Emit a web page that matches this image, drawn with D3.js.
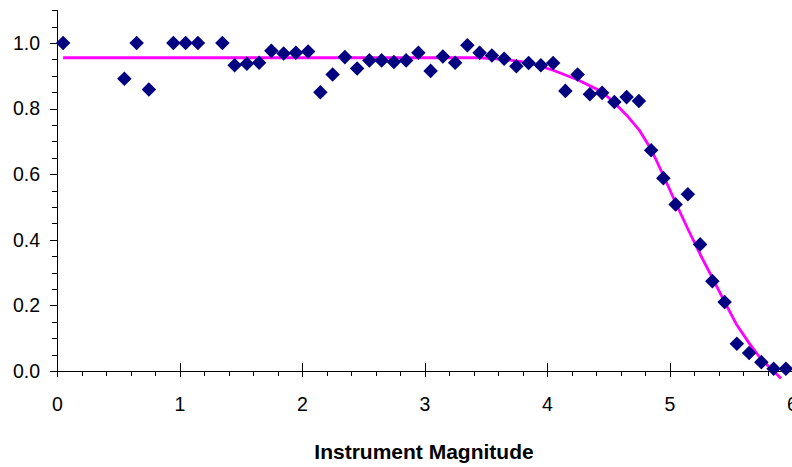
<!DOCTYPE html>
<html>
<head>
<meta charset="utf-8">
<script src="https://cdn.jsdelivr.net/npm/d3@7"></script>
<style>
  html, body { margin: 0; padding: 0; background: #fff; }
  svg { display: block; }
  text { font-family: "Liberation Sans", Arial, sans-serif; fill: #000; }
</style>
</head>
<body>
<svg id="chart" width="792" height="467"></svg>
<script>
// Observed detection fraction per magnitude bin
const magnitude = [0.05, 0.55, 0.65, 0.75, 0.95, 1.05, 1.15, 1.35, 1.45, 1.55,
  1.65, 1.75, 1.85, 1.95, 2.05, 2.15, 2.25, 2.35, 2.45, 2.55,
  2.65, 2.75, 2.85, 2.95, 3.05, 3.15, 3.25, 3.35, 3.45, 3.55,
  3.65, 3.75, 3.85, 3.95, 4.05, 4.15, 4.25, 4.35, 4.45, 4.55,
  4.65, 4.75, 4.85, 4.95, 5.05, 5.15, 5.25, 5.35, 5.45, 5.55,
  5.65, 5.75, 5.85, 5.95];
const fraction = [1.000, 0.891, 1.000, 0.858, 1.000, 1.000, 1.000, 1.000, 0.932, 0.937,
  0.940, 0.976, 0.968, 0.970, 0.974, 0.850, 0.904, 0.957, 0.922, 0.947,
  0.947, 0.942, 0.947, 0.970, 0.915, 0.959, 0.940, 0.993, 0.970, 0.962,
  0.952, 0.929, 0.939, 0.932, 0.939, 0.854, 0.904, 0.844, 0.848, 0.820,
  0.835, 0.823, 0.673, 0.588, 0.508, 0.539, 0.386, 0.274, 0.210, 0.083,
  0.055, 0.027, 0.007, 0.007];

// Fitted completeness curve
const fitX = [0.05, 3.45, 3.65, 3.85, 4.05, 4.25, 4.45, 4.55, 4.65, 4.75,
  4.85, 4.95, 5.05, 5.15, 5.25, 5.35, 5.45, 5.55, 5.65, 5.75, 5.85, 5.91];
const fitY = [0.955, 0.955, 0.950, 0.940, 0.917, 0.888, 0.851, 0.818, 0.780, 0.736,
  0.676, 0.596, 0.513, 0.433, 0.356, 0.284, 0.211, 0.140, 0.085, 0.035, 0.000, -0.023];

const xMajor = [0, 1, 2, 3, 4, 5, 6];
const yMajor = [0.0, 0.2, 0.4, 0.6, 0.8, 1.0];
const xTitle = "Instrument Magnitude";

const svg = d3.select("#chart");

const x = d3.scaleLinear().domain([0, 6]).range([57, 792]);
const y = d3.scaleLinear().domain([0, 1.1]).range([371, 10.2]);

const axisColor = "#000";

// Curve first so the markers sit on top
const fitData = fitX.map((v, i) => [v, fitY[i]]);
svg.append("path")
  .datum(fitData)
  .attr("fill", "none")
  .attr("stroke", "#ff00ff")
  .attr("stroke-width", 2.8)
  .attr("stroke-linejoin", "round")
  .attr("d", d3.line().x(d => x(d[0])).y(d => y(d[1])));

// Y axis: minor ticks every 0.05, major every 0.2
const yAxisG = svg.append("g").attr("transform", `translate(${x(0)},0)`)
  .attr("shape-rendering", "crispEdges");
yAxisG.call(d3.axisLeft(y).tickValues(d3.range(0, 23).map(i => i * 0.05)).tickSize(5).tickFormat(""))
  .call(g => g.selectAll("line").attr("stroke", axisColor))
  .call(g => g.select(".domain").attr("stroke", axisColor).attr("d", `M0,${y(1.1)}V${y(0)}`));

const yMajorG = svg.append("g").attr("transform", `translate(${x(0)},0)`)
  .attr("shape-rendering", "crispEdges");
yMajorG.call(d3.axisLeft(y).tickValues(yMajor).tickSize(7).tickPadding(10).tickFormat(d3.format(".1f")))
  .call(g => g.select(".domain").remove())
  .call(g => g.selectAll("line").attr("stroke", axisColor))
  .call(g => g.selectAll("text").attr("font-size", "19.5px")
    .attr("font-family", "'Liberation Sans', Arial, sans-serif").attr("fill", "#000"));

// X axis: minor ticks every 0.2 below, major ticks crossing the axis
const xAxisG = svg.append("g").attr("transform", `translate(0,${y(0)})`)
  .attr("shape-rendering", "crispEdges");
xAxisG.call(d3.axisBottom(x).tickValues(d3.range(0, 31).map(i => i * 0.2)).tickSize(5).tickFormat(""))
  .call(g => g.selectAll("line").attr("stroke", axisColor))
  .call(g => g.select(".domain").attr("stroke", axisColor).attr("d", `M${x(0)},0H792`));

const xMajorG = svg.append("g").attr("transform", `translate(0,${y(0)})`)
  .attr("shape-rendering", "crispEdges");
xMajorG.call(d3.axisBottom(x).tickValues(xMajor).tickSize(6).tickPadding(20).tickFormat(d3.format("d")))
  .call(g => g.select(".domain").remove())
  .call(g => g.selectAll("line").attr("stroke", axisColor).attr("y1", -8))
  .call(g => g.selectAll("text").attr("font-size", "19.5px")
    .attr("font-family", "'Liberation Sans', Arial, sans-serif").attr("fill", "#000"));

// Diamond markers
const diamond = d3.symbol().type(d3.symbolSquare).size(106);
svg.append("g")
  .selectAll("path")
  .data(magnitude.map((m, i) => [m, fraction[i]]))
  .join("path")
  .attr("transform", d => `translate(${x(d[0])},${y(d[1])}) rotate(45)`)
  .attr("d", diamond)
  .attr("fill", "#000080");

// Axis title
svg.append("text")
  .attr("x", 424)
  .attr("y", 459)
  .attr("text-anchor", "middle")
  .attr("font-weight", "bold")
  .attr("font-size", "21px")
  .text(xTitle);
</script>
</body>
</html>
